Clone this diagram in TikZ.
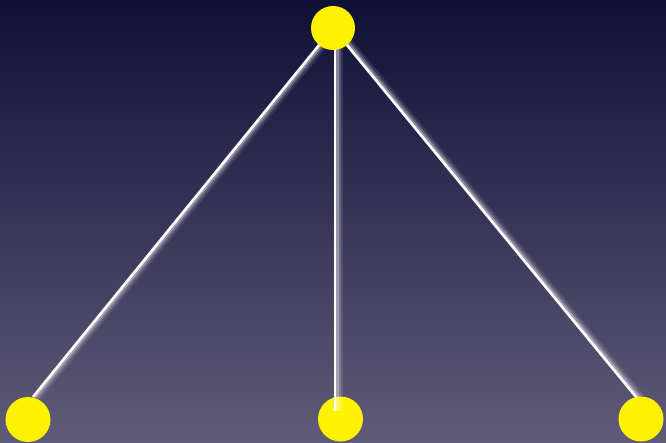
\documentclass[tikz,border=0pt]{standalone}
\begin{document}
\begin{tikzpicture}[x=1pt,y=-1pt,
  dot/.style={circle, fill=yellow, draw=none, minimum size=45pt, inner sep=0pt},
  glowa/.style={line width=9pt, white, opacity=0.10, transform canvas={xshift=3.5pt}},
  glowb/.style={line width=6pt, white, opacity=0.18, transform canvas={xshift=2.5pt}},
  glowc/.style={line width=4pt, white, opacity=0.30, transform canvas={xshift=1.5pt}},
  core/.style={line width=2.6pt, white}]
\definecolor{bgtop}{RGB}{16,15,54}
\definecolor{bgbot}{RGB}{96,91,120}
\useasboundingbox (0,0) rectangle (666,443);
\shade[top color=bgtop, bottom color=bgbot] (0,0) rectangle (666,443);
% node positions
\coordinate (topc) at (333,28);
\coordinate (lend) at (33,397);
\coordinate (rend) at (637,398);
\coordinate (mtop) at (335,30);
\coordinate (mend) at (335,411);
% left and right connectors
\foreach \e in {lend,rend}{
  \draw[glowa] (topc) -- (\e);
  \draw[glowb] (topc) -- (\e);
  \draw[glowc] (topc) -- (\e);
  \draw[core] (topc) -- (\e);
}
% bottom nodes
\node[dot] (bl) at (28,419.5) {};
\node[dot] (bm) at (340.5,419) {};
\node[dot] (br) at (641,419) {};
% middle connector
\draw[glowa] (mtop) -- (mend);
\draw[glowb] (mtop) -- (mend);
\draw[glowc] (mtop) -- (mend);
\draw[core] (mtop) -- (mend);
% top node
\node[dot, minimum size=44pt] (top) at (topc) {};
\end{tikzpicture}
\end{document}
